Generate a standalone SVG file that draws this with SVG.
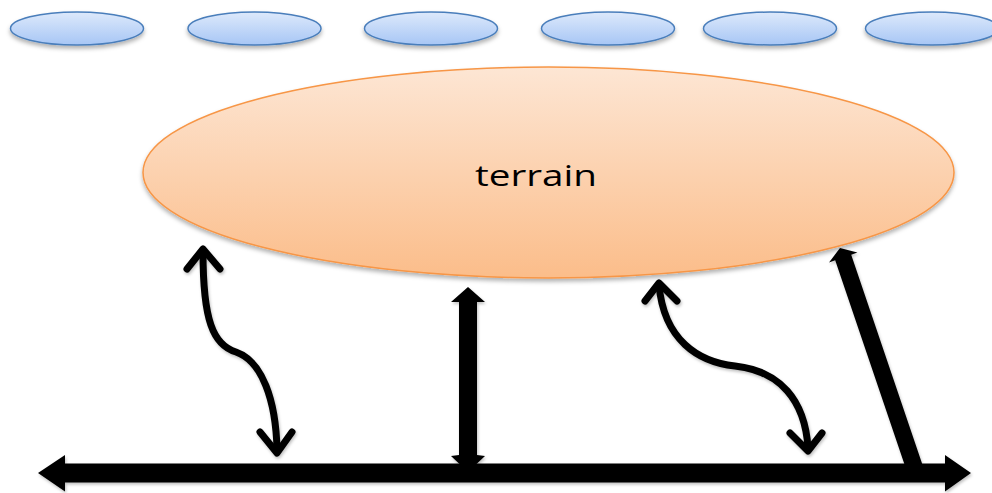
<svg xmlns="http://www.w3.org/2000/svg" width="992" height="493" viewBox="0 0 992 493">
  <defs>
    <linearGradient id="gBlue" x1="0" y1="0" x2="0" y2="1">
      <stop offset="0" stop-color="#dde9fb"/>
      <stop offset="1" stop-color="#a7c6f5"/>
    </linearGradient>
    <linearGradient id="gOrange" x1="0" y1="0" x2="0" y2="1">
      <stop offset="0" stop-color="#fde6d4"/>
      <stop offset="1" stop-color="#fbbd8a"/>
    </linearGradient>
    <filter id="shadow" x="-10%" y="-30%" width="120%" height="170%">
      <feDropShadow dx="0" dy="3" stdDeviation="2" flood-color="#000" flood-opacity="0.3"/>
    </filter>
    <filter id="shadowS" x="-20%" y="-20%" width="140%" height="140%">
      <feDropShadow dx="1" dy="2" stdDeviation="1.5" flood-color="#000" flood-opacity="0.25"/>
    </filter>
  </defs>
  <style>
    .cloud { fill: url(#gBlue); stroke: #4a7ebb; stroke-width: 1.5; filter: url(#shadow); }
    .terrain { fill: url(#gOrange); stroke: #f79646; stroke-width: 1.5; filter: url(#shadow); }
    .label { font-family: "Open Sans", "Liberation Sans", sans-serif; font-size: 30px; fill: #000; }
    .curve { fill: none; stroke: #000; stroke-width: 7; stroke-linecap: round; stroke-linejoin: round; }
    .block { fill: #000; stroke: none; }
  </style>
  <rect x="0" y="0" width="992" height="493" fill="#fff"/>

  <g id="cloud1"><ellipse class="cloud" cx="77" cy="28.5" rx="66.5" ry="16.5"/></g>
  <g id="cloud2"><ellipse class="cloud" cx="254.5" cy="28.5" rx="66.5" ry="16.5"/></g>
  <g id="cloud3"><ellipse class="cloud" cx="431" cy="28.5" rx="66.5" ry="16.5"/></g>
  <g id="cloud4"><ellipse class="cloud" cx="608" cy="28.5" rx="66.5" ry="16.5"/></g>
  <g id="cloud5"><ellipse class="cloud" cx="770" cy="28.5" rx="66.5" ry="16.5"/></g>
  <g id="cloud6"><ellipse class="cloud" cx="932" cy="28.5" rx="66.5" ry="16.5"/></g>

  <g id="terrain">
    <ellipse class="terrain" cx="548.5" cy="172.5" rx="405.5" ry="105.5"/>
    <text class="label" x="475" y="186" textLength="122" lengthAdjust="spacingAndGlyphs">terrain</text>
  </g>

  <g id="connectors" filter="url(#shadowS)">
    <path class="curve" d="M203,252 C203,320 213,345 236,352 C262,361 276,400 277,450"/>
    <polyline class="curve" points="187,269 203,249 220,269"/>
    <polyline class="curve" points="260,432 277,453 292,432"/>
    <path class="curve" d="M659,285 C664,340 698,362 735,366 C780,371 805,400 808,448"/>
    <polyline class="curve" points="645,301 659,283 677,301"/>
    <polyline class="curve" points="790,433 808,451 822,433"/>
    <polygon class="block" points="468,287 485,302 477,302 477,455 485,456 468,472 451,456 459,455 459,302 451,302"/>
    <polygon class="block" points="840,248 857.4,252.6 851.2,254.7 924,469.2 908,474.8 835.2,260.3 829,262.4"/>
    <polygon class="block" points="38,473 65,455 65,463.5 945,463.5 945,455 971,473 945,491.5 945,482.5 65,482.5 65,491.5"/>
  </g>
</svg>
